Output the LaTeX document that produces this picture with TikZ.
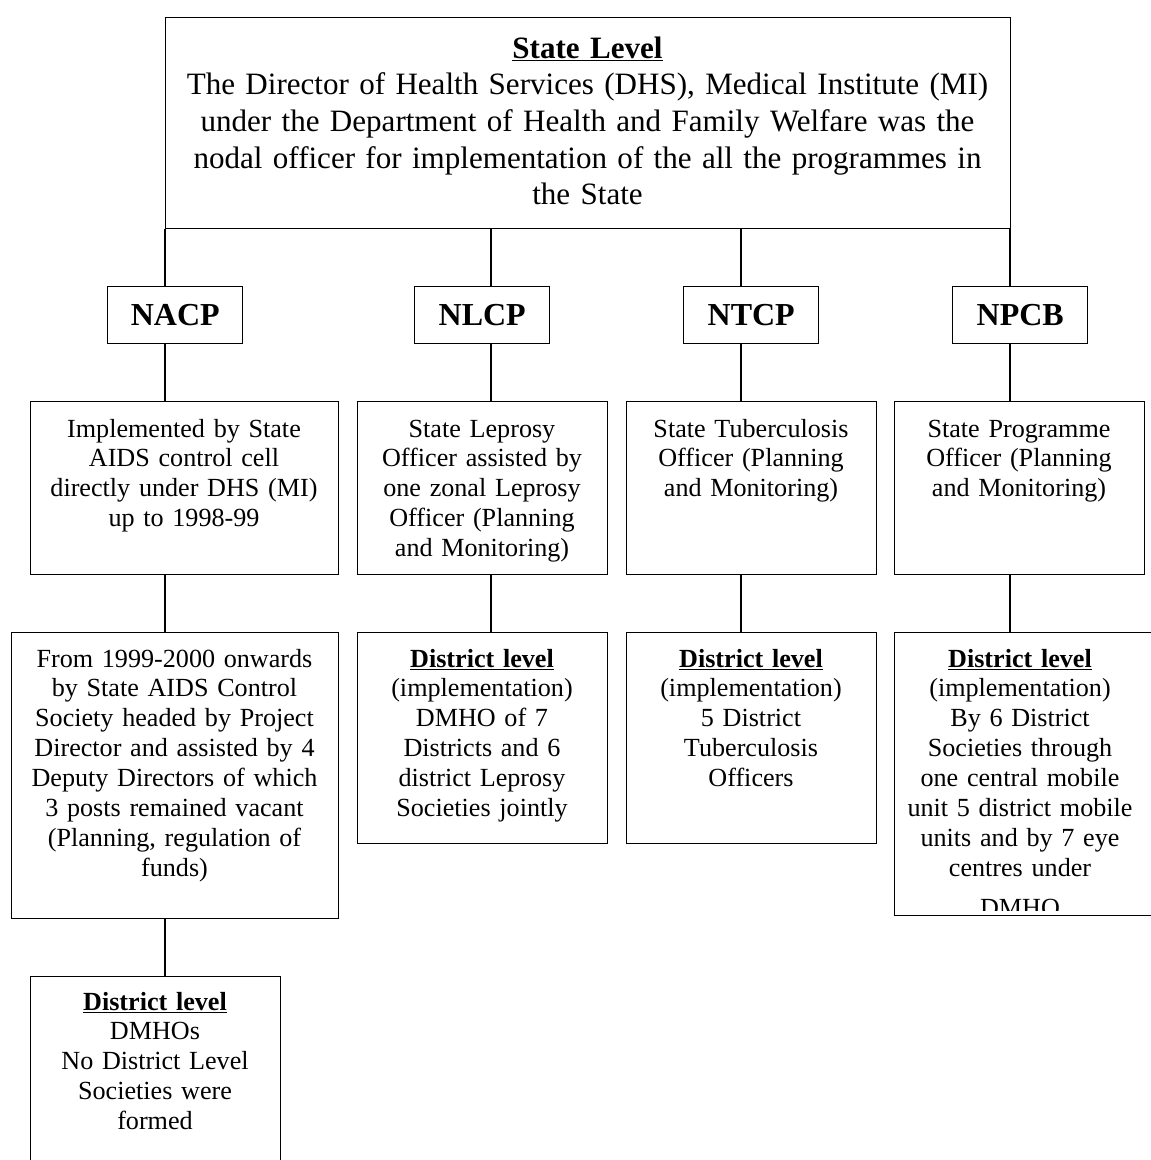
\documentclass[tikz,border=0pt]{standalone}
\usepackage{fontspec}
\setmainfont{Liberation Serif}

\newcommand{\boxfont}{\fontsize{19.6pt}{22.4pt}\selectfont}
\newcommand{\headfont}{\fontsize{23.3pt}{27.5pt}\selectfont}
\newcommand{\progfont}{\fontsize{24pt}{27pt}\selectfont\bfseries}

\tikzset{every picture/.style={line width=1.1pt}}
\tikzset{
  orgbox/.style={draw, inner sep=0pt, anchor=north west},
  boxtext/.style={inner sep=0pt, anchor=base, align=center, font=\boxfont, text width=187.5pt},
}

\begin{document}
\begin{tikzpicture}[x=0.75pt,y=0.75pt,yscale=-1,xscale=1]
\useasboundingbox (0,0) rectangle (1151,1160);
\clip (0,0) rectangle (1151,1160);

%Shape: Rectangle [state level]
\node [orgbox, minimum width=633.75pt, minimum height=158.25pt] (state) at (165,17) {};
% Text Node
\node [boxtext, font=\headfont, text width=630pt] (state-t) at (587.5,58) {\underline{\textbf{State Level}}\\The Director of Health Services (DHS), Medical Institute (MI)\\under the Department of Health and Family Welfare was the\\nodal officer for implementation of the all the programmes in\\the State};

%Shape: Rectangle [programmes]
\node [orgbox, minimum width=101.25pt, minimum height=42.75pt, font=\progfont] (nacp) at (107,286) {NACP};
\node [orgbox, minimum width=101.25pt, minimum height=42.75pt, font=\progfont] (nlcp) at (414,286) {NLCP};
\node [orgbox, minimum width=101.25pt, minimum height=42.75pt, font=\progfont] (ntcp) at (683,286) {NTCP};
\node [orgbox, minimum width=101.25pt, minimum height=42.75pt, font=\progfont] (npcb) at (952,286) {NPCB};

%Shape: Rectangle [state officers]
\node [orgbox, minimum width=231pt, minimum height=129.75pt] (nacpcell) at (30,401) {};
\node [orgbox, minimum width=187.5pt, minimum height=129.75pt] (nlcpstate) at (357,401) {};
\node [orgbox, minimum width=187.5pt, minimum height=129.75pt] (ntcpstate) at (626,401) {};
\node [orgbox, minimum width=187.5pt, minimum height=129.75pt] (npcbstate) at (894,401) {};

% Text Node
\node [boxtext, text width=231pt] (nacpcell-t) at (184,437) {Implemented by State\\AIDS control cell\\directly under DHS (MI)\\up to 1998-99};
% Text Node
\node [boxtext] (nlcpstate-t) at (482,437) {State Leprosy\\Officer assisted by\\one zonal Leprosy\\Officer (Planning\\and Monitoring)};
% Text Node
\node [boxtext] (ntcpstate-t) at (751,437) {State Tuberculosis\\Officer (Planning\\and Monitoring)};
% Text Node
\node [boxtext] (npcbstate-t) at (1019,437) {State Programme\\Officer (Planning\\and Monitoring)};

%Shape: Rectangle [district level]
\node [orgbox, minimum width=245.25pt, minimum height=214.5pt] (nacpsoc) at (11,632) {};
\node [orgbox, minimum width=187.5pt, minimum height=158.25pt] (nlcpdist) at (357,632) {};
\node [orgbox, minimum width=187.5pt, minimum height=158.25pt] (ntcpdist) at (626,632) {};
\node [orgbox, minimum width=203.25pt, minimum height=212.25pt] (npcbdist) at (894,632) {};
\node [orgbox, minimum width=187.5pt, minimum height=168pt] (nacpdist) at (30,976) {};

% Text Node
\node [boxtext, text width=245.25pt] (nacpsoc-t) at (174.5,667) {From 1999-2000 onwards\\by State AIDS Control\\Society headed by Project\\Director and assisted by 4\\Deputy Directors of which\\3 posts remained vacant\\(Planning, regulation of\\funds)};
% Text Node
\node [boxtext] (nlcpdist-t) at (482,667) {\underline{\textbf{District level}}\\(implementation)\\DMHO of 7\\Districts and 6\\district Leprosy\\Societies jointly};
% Text Node
\node [boxtext] (ntcpdist-t) at (751,667) {\underline{\textbf{District level}}\\(implementation)\\5 District\\Tuberculosis\\Officers};
% Text Node
\begin{scope}
\clip (894,632) rectangle (1151,910);
\node [boxtext] (npcbdist-t) at (1020,667) {\underline{\textbf{District level}}\\(implementation)\\By 6 District\\Societies through\\one central mobile\\unit 5 district mobile\\units and by 7 eye\\centres under\\[8pt]DMHO};
\end{scope}
% Text Node
\node [boxtext] (nacpdist-t) at (155,1010) {\underline{\textbf{District level}}\\DMHOs\\No District Level\\Societies were\\formed};

%Straight Lines [connectors]
\coordinate (nacpx) at (165,0);
\coordinate (nlcpx) at (491,0);
\coordinate (ntcpx) at (741,0);
\coordinate (npcbx) at (1010,0);

\draw (state.south -| nacpx) -- (nacp.north -| nacpx) (nacp.south -| nacpx) -- (nacpcell.north -| nacpx)
      (nacpcell.south -| nacpx) -- (nacpsoc.north -| nacpx) (nacpsoc.south -| nacpx) -- (nacpdist.north -| nacpx) ;
\draw (state.south -| nlcpx) -- (nlcp.north -| nlcpx) (nlcp.south -| nlcpx) -- (nlcpstate.north -| nlcpx)
      (nlcpstate.south -| nlcpx) -- (nlcpdist.north -| nlcpx) ;
\draw (state.south -| ntcpx) -- (ntcp.north -| ntcpx) (ntcp.south -| ntcpx) -- (ntcpstate.north -| ntcpx)
      (ntcpstate.south -| ntcpx) -- (ntcpdist.north -| ntcpx) ;
\draw (state.south -| npcbx) -- (npcb.north -| npcbx) (npcb.south -| npcbx) -- (npcbstate.north -| npcbx)
      (npcbstate.south -| npcbx) -- (npcbdist.north -| npcbx) ;

\end{tikzpicture}
\end{document}
